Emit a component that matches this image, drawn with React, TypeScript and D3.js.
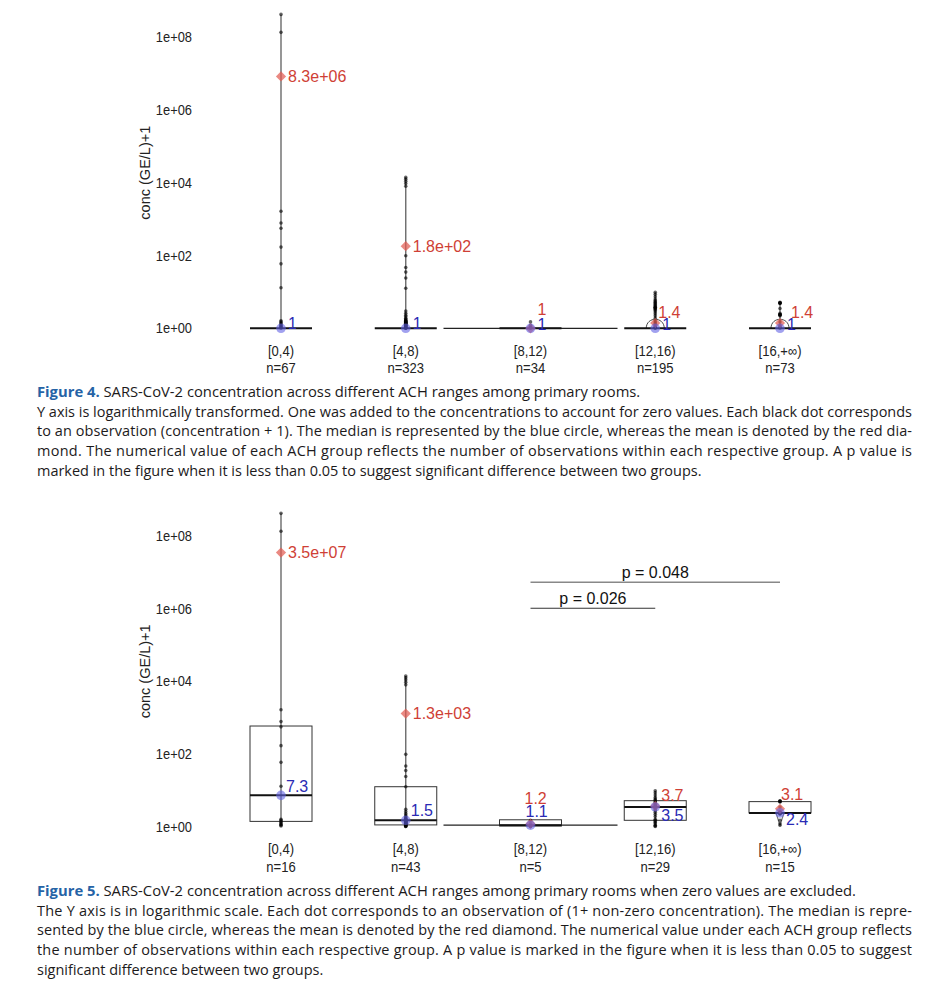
import React, { useMemo } from "react";
import * as d3 from "d3";

// ---------------- DATA ----------------
const CATEGORIES = ["[0,4)", "[4,8)", "[8,12)", "[12,16)", "[16,+∞)"];
const N_ALL = [67, 323, 34, 195, 73];
const N_NONZERO = [16, 43, 5, 29, 15];

// non-zero observations (concentration + 1)
const OBS_0_4 = [4.2e8, 1.35e8, 1650, 780, 560, 170, 59, 13, 1.6, 1.5, 1.4, 1.3, 1.2, 1.15, 1.1, 1.05];
const OBS_4_8 = [14000, 12500, 11000, 9500, 8000, 98, 47, 35, 24, 12.6, 3.0, 2.6, 2.3, 2.1, 1.9, 1.8, 1.7, 1.65, 1.6, 1.55, 1.52, 1.5, 1.48, 1.45, 1.42, 1.4, 1.37, 1.35, 1.32, 1.3, 1.27, 1.25, 1.22, 1.2, 1.18, 1.15, 1.13, 1.1, 1.08, 1.06, 1.04, 1.02, 1.01];
const OBS_8_12 = [1.5, 1.2, 1.1, 1.05, 1.02];
const OBS_12_16 = [9.8, 8.6, 7.4, 6.4, 5.8, 5.4, 5.1, 4.8, 4.5, 4.2, 4.0, 3.8, 3.7, 3.6, 3.5, 3.3, 3.1, 2.8, 2.5, 2.2, 1.9, 1.6, 1.5, 1.4, 1.3, 1.2, 1.1, 1.05, 1.02];
const OBS_16_INF = [5.2, 5.0, 5.0, 4.9, 4.8, 3.5, 2.6, 2.4, 2.4, 2.4, 2.3, 2.2, 1.5, 1.2, 1.1];
const OBS_NONZERO = [OBS_0_4, OBS_4_8, OBS_8_12, OBS_12_16, OBS_16_INF];
const ZERO_OBS = [1]; // zero concentration + 1

const MEAN_ALL = [8.3e6, 180, 1, 1.4, 1.4];
const MEAN_ALL_LABELS = ["8.3e+06", "1.8e+02", "1", "1.4", "1.4"];
const MEDIAN_ALL = [1, 1, 1, 1, 1];
const MEDIAN_ALL_LABELS = ["1", "1", "1", "1", "1"];

const MEAN_NZ = [3.5e7, 1300, 1.2, 3.7, 3.1];
const MEAN_NZ_LABELS = ["3.5e+07", "1.3e+03", "1.2", "3.7", "3.1"];
const MEDIAN_NZ = [7.3, 1.5, 1.1, 3.5, 2.4];
const MEDIAN_NZ_LABELS = ["7.3", "1.5", "1.1", "3.5", "2.4"];
const Q1_NZ = [1.4, 1.12, 1.05, 1.5, 2.4];
const Q3_NZ = [590, 12.6, 1.55, 5.2, 4.9];

const Y_TICKS = [1, 1e2, 1e4, 1e6, 1e8];
const Y_TICK_LABELS = ["1e+00", "1e+02", "1e+04", "1e+06", "1e+08"];
const Y_TITLE = "conc (GE/L)+1";

const P_FROM = ["[8,12)", "[8,12)"];
const P_TO = ["[16,+∞)", "[12,16)"];
const P_LABELS = ["p = 0.048", "p = 0.026"];

const FIG4_LABEL = "Figure 4.";
const FIG4_TITLE = " SARS-CoV-2 concentration across different ACH ranges among primary rooms.";
const FIG4_LINES = [
  "Y axis is logarithmically transformed. One was added to the concentrations to account for zero values. Each black dot corresponds",
  "to an observation (concentration + 1). The median is represented by the blue circle, whereas the mean is denoted by the red dia-",
  "mond. The numerical value of each ACH group reflects the number of observations within each respective group. A p value is",
  "marked in the figure when it is less than 0.05 to suggest significant difference between two groups.",
];
const FIG5_LABEL = "Figure 5.";
const FIG5_TITLE = " SARS-CoV-2 concentration across different ACH ranges among primary rooms when zero values are excluded.";
const FIG5_LINES = [
  "The Y axis is in logarithmic scale. Each dot corresponds to an observation of (1+ non-zero concentration). The median is repre-",
  "sented by the blue circle, whereas the mean is denoted by the red diamond. The numerical value under each ACH group reflects",
  "the number of observations within each respective group. A p value is marked in the figure when it is less than 0.05 to suggest",
  "significant difference between two groups.",
];

// ---------------- LAYOUT / STYLE ----------------
const W = 943;
const H = 997;
const FONT = '"Liberation Sans", Arial, Helvetica, sans-serif';
const CAP_FONT = '"Open Sans", "Noto Sans", sans-serif';
const RED_TEXT = "#cf3f36";
const BLUE_TEXT = "#2a2ab4";
const DIAMOND_FILL = "rgba(226,92,82,0.72)";
const CIRCLE_FILL = "rgba(98,98,228,0.6)";
const BOX_HALF = 31;
const FLAT_HALF = 87;

const TOP_LAYOUT = {
  y0: 328.3,
  y8: 37.1,
  violin: ["line", "line", "flat", "dome", "dome"],
  meanDx: [7, 7, 7, 3, 11],
  meanDy: [0, 0, -19, -11, -11],
  medDx: [7, 7, 7, 7, 7],
  medDy: [1, 1, 1.5, 1.5, 1.5],
};
const BOT_LAYOUT = {
  y0: 826.7,
  y8: 536,
  violin: ["line", "line", "flat", "line", "vee"],
  meanDx: [7, 7, -6, 6, 1],
  meanDy: [0, 0, -26, -11, -14.5],
  medDx: [5, 5, -5, 6, 6],
  medDy: [-3, -4, -8, 14, 12.5],
};

const xScale = d3.scalePoint<string>().domain(CATEGORIES).range([281, 780]);

function Panel({ layout, groups, means, meanLabels, medians, medianLabels, ns, q1, q3, pvals }: any) {
  const y = d3.scaleLog().domain([1, 1e8]).range([layout.y0, layout.y8]);
  const diamond = d3.symbol(d3.symbolSquare, 52)() as string;
  const ytitleY = (layout.y0 + layout.y8) / 2 - 10;
  return (
    <g>
      {/* y axis tick labels */}
      {Y_TICKS.map((t, i) => (
        <text
          key={t}
          transform={`translate(192,${y(t)}) scale(0.92,1)`}
          dy="0.36em"
          textAnchor="end"
          fontSize={14}
          fill="#222"
          fontFamily={FONT}
        >
          {Y_TICK_LABELS[i]}
        </text>
      ))}
      <text transform={`translate(150,${ytitleY}) rotate(-90)`} textAnchor="middle" fontSize={14.5} fill="#222" fontFamily={FONT}>
        {Y_TITLE}
      </text>

      {CATEGORIES.map((c, i) => {
        const cx = xScale(c) as number;
        const pts: number[] = groups[i];
        const ext = d3.extent(pts) as [number, number];
        const kind = layout.violin[i];
        const yMed = y(medians[i]);
        return (
          <g key={c}>
            {/* violin */}
            {(kind === "line" || kind === "dome") && (
              <line x1={cx} x2={cx} y1={y(ext[1])} y2={y(ext[0])} stroke="#6a6a6a" strokeWidth={1.4} />
            )}
            {kind === "flat" && (
              <line x1={cx - FLAT_HALF} x2={cx + FLAT_HALF} y1={yMed} y2={yMed} stroke="#222" strokeWidth={1.2} />
            )}
            {kind === "dome" && (
              <path
                d={`M${cx - 9},${y(1)} C${cx - 9},${y(1) - 12} ${cx + 9},${y(1) - 12} ${cx + 9},${y(1)}`}
                fill="none"
                stroke="#333"
                strokeWidth={0.9}
              />
            )}
            {kind === "vee" && (
              <path
                d={`M${cx - 4},${yMed} L${cx},${y(ext[0])} L${cx + 4},${yMed}`}
                fill="none"
                stroke="#777"
                strokeWidth={1.2}
              />
            )}
            {/* box */}
            {q1 && (
              <rect
                x={cx - BOX_HALF}
                width={BOX_HALF * 2}
                y={y(q3[i])}
                height={y(q1[i]) - y(q3[i])}
                fill="none"
                stroke="#333"
                strokeWidth={1}
              />
            )}
            <line x1={cx - BOX_HALF} x2={cx + BOX_HALF} y1={yMed} y2={yMed} stroke="#111" strokeWidth={2} />
            {/* points */}
            {pts.map((v, j) => (
              <circle key={j} cx={cx} cy={y(v)} r={1.8} fill="rgba(0,0,0,0.6)" />
            ))}
            {/* mean diamond */}
            <path d={diamond} transform={`translate(${cx},${y(means[i])}) rotate(45)`} fill={DIAMOND_FILL} />
            {/* median circle */}
            <circle cx={cx} cy={yMed} r={4.8} fill={CIRCLE_FILL} />
            {/* labels */}
            <text
              x={cx + layout.meanDx[i]}
              y={y(means[i]) + layout.meanDy[i]}
              dy="0.36em"
              fontSize={16}
              fill={RED_TEXT}
              fontFamily={FONT}
            >
              {meanLabels[i]}
            </text>
            <text x={cx + layout.medDx[i]} y={yMed + layout.medDy[i]} fontSize={16} fill={BLUE_TEXT} fontFamily={FONT}>
              {medianLabels[i]}
            </text>
            {/* category labels */}
            <text
              transform={`translate(${cx},${layout.y0 + 27.5}) scale(0.9,1)`}
              textAnchor="middle"
              fontSize={14.5}
              fill="#222"
              fontFamily={FONT}
            >
              {c}
            </text>
            <text
              transform={`translate(${cx},${layout.y0 + 45}) scale(0.9,1)`}
              textAnchor="middle"
              fontSize={14.5}
              fill="#222"
              fontFamily={FONT}
            >
              {`n=${ns[i]}`}
            </text>
          </g>
        );
      })}

      {pvals &&
        P_LABELS.map((lab, i) => {
          const x1 = xScale(P_FROM[i]) as number;
          const x2 = xScale(P_TO[i]) as number;
          const ly = i === 0 ? 582.3 : 608.3;
          return (
            <g key={lab}>
              <line x1={x1} x2={x2} y1={ly} y2={ly} stroke={i === 0 ? "#888" : "#333"} strokeWidth={i === 0 ? 1.5 : 1.1} />
              <text x={(x1 + x2) / 2} y={ly - 4.5} textAnchor="middle" fontSize={16} fill="#111" fontFamily={FONT}>
                {lab}
              </text>
            </g>
          );
        })}
    </g>
  );
}

function measure(text: string, font: string): number {
  const ctx = document.createElement("canvas").getContext("2d");
  if (!ctx) return text.length * 7;
  ctx.font = font;
  return ctx.measureText(text).width;
}

function Caption({ label, title, lines, baselines, k }: any) {
  const X = 37;
  const FULL = 875;
  return (
    <g fontFamily={CAP_FONT} fontSize={14} fill="#1c1a1b">
      <text transform={`translate(${X},${baselines[0]}) scale(${k},1)`} fontSize={14.3}>
        <tspan fontWeight="bold" fill="#2563a6">
          {label}
        </tspan>
        <tspan>{title}</tspan>
      </text>
      {lines.map((ln: string, i: number) => {
        const justified = i < lines.length - 1;
        return (
          <text
            key={i}
            transform={`translate(${X},${baselines[i + 1]}) scale(${k},1)`}
            textLength={justified ? FULL / k : undefined}
            lengthAdjust={justified ? "spacing" : undefined}
          >
            {ln}
          </text>
        );
      })}
    </g>
  );
}

export default function App() {
  const k = useMemo(() => 875 / measure(FIG4_LINES[0], `14px ${CAP_FONT}`), []);
  const topGroups = OBS_NONZERO.map((g) => [...g, ...ZERO_OBS]);
  return (
    <svg
      width={W}
      height={H}
      viewBox={`0 0 ${W} ${H}`}
      style={{ position: "absolute", left: 0, top: 0, background: "#fff" }}
    >
      <rect width={W} height={H} fill="#fff" />
      <Panel
        layout={TOP_LAYOUT}
        groups={topGroups}
        means={MEAN_ALL}
        meanLabels={MEAN_ALL_LABELS}
        medians={MEDIAN_ALL}
        medianLabels={MEDIAN_ALL_LABELS}
        ns={N_ALL}
      />
      <Caption
        label={FIG4_LABEL}
        title={FIG4_TITLE}
        lines={FIG4_LINES}
        baselines={[397, 416.7, 436.4, 456.1, 475.8]}
        k={k}
      />
      <Panel
        layout={BOT_LAYOUT}
        groups={OBS_NONZERO}
        means={MEAN_NZ}
        meanLabels={MEAN_NZ_LABELS}
        medians={MEDIAN_NZ}
        medianLabels={MEDIAN_NZ_LABELS}
        ns={N_NONZERO}
        q1={Q1_NZ}
        q3={Q3_NZ}
        pvals
      />
      <Caption
        label={FIG5_LABEL}
        title={FIG5_TITLE}
        lines={FIG5_LINES}
        baselines={[896, 915.7, 935.4, 955.1, 974.8]}
        k={k}
      />
    </svg>
  );
}
